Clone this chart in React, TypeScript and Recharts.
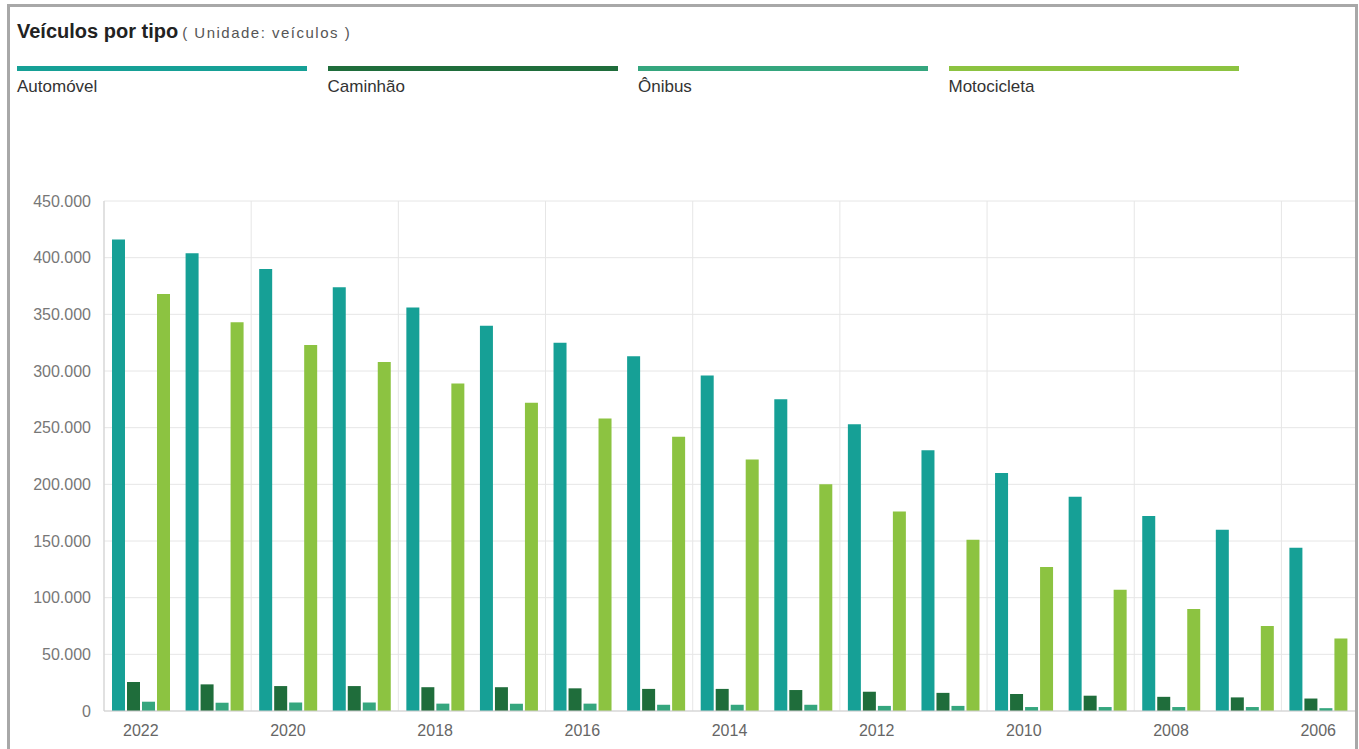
import { BarChart, Bar, XAxis, YAxis, CartesianGrid } from 'recharts';

const years = ['2022', '2021', '2020', '2019', '2018', '2017', '2016', '2015', '2014', '2013', '2012', '2011', '2010', '2009', '2008', '2007', '2006'];

const automovel = [416000, 404000, 390000, 374000, 356000, 340000, 325000, 313000, 296000, 275000, 253000, 230000, 210000, 189000, 172000, 160000, 144000];
const caminhao = [25600, 23500, 22000, 22000, 21000, 21000, 20000, 19500, 19500, 18500, 17000, 16000, 15000, 13500, 12500, 12000, 11000];
const onibus = [8200, 7300, 7500, 7500, 6500, 6500, 6500, 5500, 5500, 5500, 4500, 4500, 3500, 3500, 3500, 3500, 2500];
const motocicleta = [368000, 343000, 323000, 308000, 289000, 272000, 258000, 242000, 222000, 200000, 176000, 151000, 127000, 107000, 90000, 75000, 64000];

const yTicks = [0, 50000, 100000, 150000, 200000, 250000, 300000, 350000, 400000, 450000];

const series = [
  { key: 'automovel', name: 'Automóvel', color: '#16a096' },
  { key: 'caminhao', name: 'Caminhão', color: '#1f6d3b' },
  { key: 'onibus', name: 'Ônibus', color: '#35a67e' },
  { key: 'motocicleta', name: 'Motocicleta', color: '#8cc341' },
];

const data = years.map((year, i) => ({
  year,
  automovel: automovel[i],
  caminhao: caminhao[i],
  onibus: onibus[i],
  motocicleta: motocicleta[i],
}));

const fmt = (v: number) => String(v).replace(/\B(?=(\d{3})+(?!\d))/g, '.');

// vertical lines sit on the left edge of every labelled year (every 2nd band)
const gridX = ({ offset }: any) => {
  const band = offset.width / years.length;
  const out: number[] = [];
  for (let k = 0; k < years.length; k += 2) out.push(offset.left + k * band);
  return out;
};

export default function App() {
  return (
    <div
      style={{
        position: 'fixed',
        inset: 0,
        overflow: 'hidden',
        background: '#fff',
        fontFamily: '"Liberation Sans", Arial, sans-serif',
      }}
    >
      <div
        style={{
          position: 'absolute',
          left: 7,
          top: 4,
          width: 1351,
          height: 800,
          border: '3px solid #a8a8a8',
          boxSizing: 'border-box',
        }}
      />
      <div style={{ position: 'absolute', left: 17, top: 21, lineHeight: '20px', whiteSpace: 'nowrap' }}>
        <span style={{ fontSize: 20, fontWeight: 'bold', color: '#222' }}>Veículos por tipo</span>
        <span style={{ fontSize: 15, letterSpacing: 1.5, color: '#555', marginLeft: 4 }}>( Unidade: veículos )</span>
      </div>
      {series.map((s, i) => (
        <div key={s.key}>
          <div
            style={{
              position: 'absolute',
              left: 17 + i * 310.5,
              top: 66,
              width: 290,
              height: 5,
              background: s.color,
            }}
          />
          <div
            style={{
              position: 'absolute',
              left: 17 + i * 310.5,
              top: 78,
              fontSize: 17,
              lineHeight: '18px',
              color: '#333',
            }}
          >
            {s.name}
          </div>
        </div>
      ))}
      <div style={{ position: 'absolute', left: 0, top: 190 }}>
        <BarChart
          width={1359}
          height={551}
          data={data}
          margin={{ top: 11, right: 4, bottom: 0, left: 0 }}
          barSize={13}
          barGap={2}
        >
          <CartesianGrid stroke="#e6e6e6" verticalCoordinatesGenerator={gridX} />
          <XAxis
            dataKey="year"
            height={30}
            interval={1}
            tickLine={false}
            tickSize={0}
            tickMargin={14}
            axisLine={{ stroke: '#cfcfcf' }}
            tick={{ fontSize: 16, fill: '#666' }}
          />
          <YAxis
            width={104}
            domain={[0, 450000]}
            ticks={yTicks}
            tickFormatter={fmt}
            tickLine={false}
            tickSize={6}
            tickMargin={7}
            axisLine={{ stroke: '#cfcfcf' }}
            tick={{ fontSize: 16, fill: '#777' }}
          />
          {series.map((s) => (
            <Bar key={s.key} dataKey={s.key} name={s.name} fill={s.color} isAnimationActive={false} />
          ))}
        </BarChart>
      </div>
    </div>
  );
}
